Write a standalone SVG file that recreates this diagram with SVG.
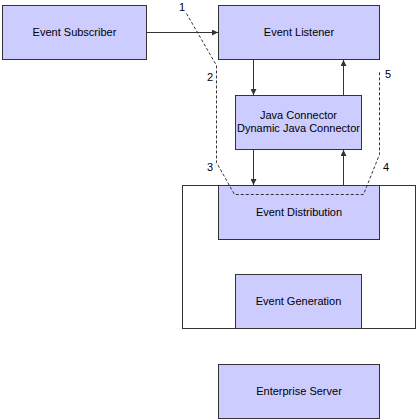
<svg xmlns="http://www.w3.org/2000/svg" width="417" height="420" viewBox="0 0 417 420">
<style>
.box{fill:#ccccff;stroke:#333;stroke-width:1}
.outer{fill:#fff;stroke:#333;stroke-width:1}
.lbl{font-family:"Liberation Sans",Arial,sans-serif;font-size:11px;fill:#000;text-anchor:middle}
.num{font-family:"Liberation Sans",Arial,sans-serif;font-size:11px;fill:#000}
.conn{stroke:#333;stroke-width:1;fill:none}
.dash{stroke:#333;stroke-width:1;fill:none;stroke-dasharray:3,2}
</style>
<defs>
<marker id="ah" markerWidth="6" markerHeight="6" refX="6" refY="3" orient="auto" markerUnits="userSpaceOnUse">
<path d="M0,0 L6,3 L0,6 Z" fill="#333"/>
</marker>
</defs>
<rect class="outer" x="182.5" y="185.5" width="233" height="143"/>
<g id="event-subscriber"><rect class="box" x="2.5" y="5.5" width="144" height="54"/><text class="lbl" x="74.5" y="36">Event Subscriber</text></g>
<g id="event-listener"><rect class="box" x="218.5" y="5.5" width="161" height="54"/><text class="lbl" x="299" y="36">Event Listener</text></g>
<g id="java-connector"><rect class="box" x="235.5" y="95.5" width="126" height="54"/><text class="lbl" x="298.5" y="119">Java Connector</text><text class="lbl" x="298.5" y="132">Dynamic Java Connector</text></g>
<g id="event-distribution"><rect class="box" x="218.5" y="185.5" width="161" height="54"/><text class="lbl" x="299" y="216">Event Distribution</text></g>
<g id="event-generation"><rect class="box" x="235.5" y="274.5" width="126" height="54"/><text class="lbl" x="298.5" y="305">Event Generation</text></g>
<g id="enterprise-server"><rect class="box" x="218.5" y="364.5" width="161" height="54"/><text class="lbl" x="299" y="395">Enterprise Server</text></g>
<g id="connectors">
<line class="conn" x1="146.5" y1="32.5" x2="218" y2="32.5" marker-end="url(#ah)"/>
<line class="conn" x1="253.5" y1="59.5" x2="253.5" y2="95" marker-end="url(#ah)"/>
<line class="conn" x1="343.5" y1="95.5" x2="343.5" y2="60" marker-end="url(#ah)"/>
<line class="conn" x1="253.5" y1="149.5" x2="253.5" y2="185" marker-end="url(#ah)"/>
<line class="conn" x1="343.5" y1="185.5" x2="343.5" y2="150" marker-end="url(#ah)"/>
<polyline class="dash" points="186.5,13.5 216.5,65.5 216.5,162.5 234.5,194.5 363.5,194.5 379.5,154.5 379.5,70.5"/>
</g>
<text class="num" x="179" y="11">1</text>
<text class="num" x="207" y="81">2</text>
<text class="num" x="207" y="171">3</text>
<text class="num" x="383" y="171">4</text>
<text class="num" x="385" y="78">5</text>
</svg>
